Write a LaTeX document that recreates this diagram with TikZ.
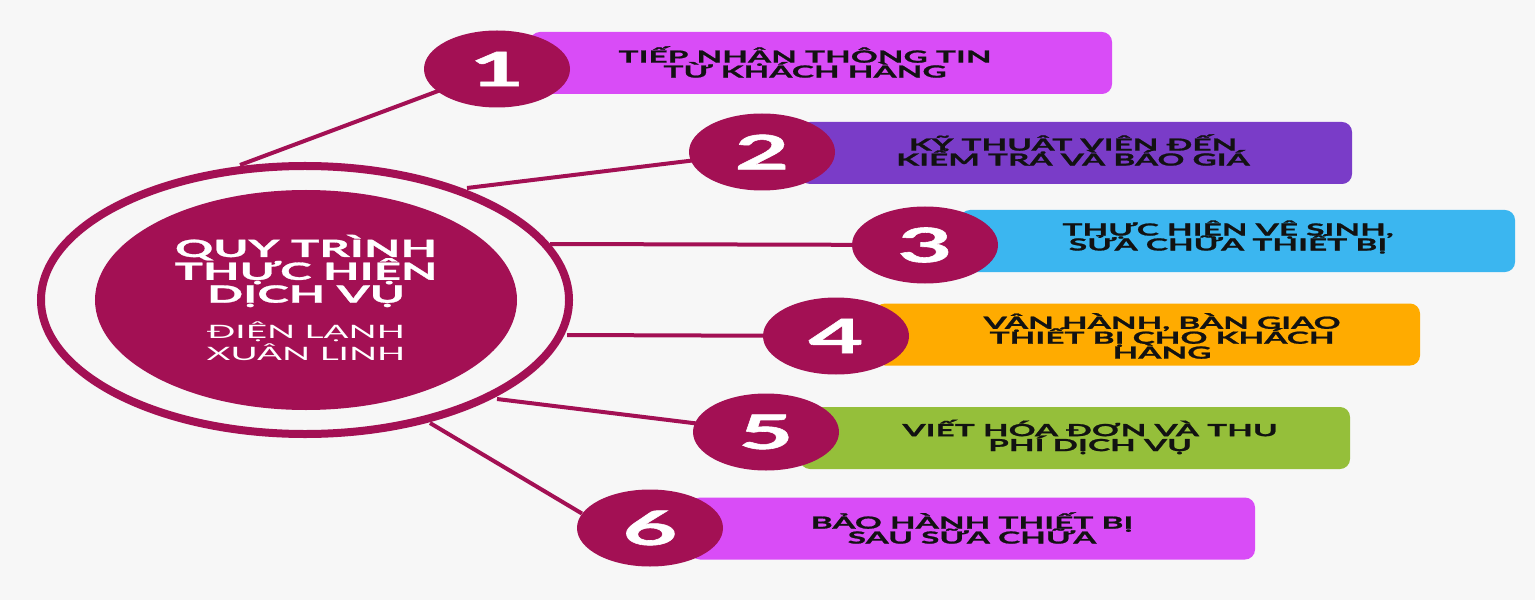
\documentclass[tikz,border=0pt]{standalone}
\usepackage{fontspec}
\setmainfont{Lato}[FakeStretch=2.0,BoldFeatures={FakeBold=1.2}]
\usepackage{xcolor}
\usetikzlibrary{shapes.geometric,backgrounds}

\definecolor{wine}{HTML}{A31054}
\definecolor{pinkbox}{HTML}{D94CF7}
\definecolor{violetbox}{HTML}{7A3CC8}
\definecolor{skybox}{HTML}{3BB6F0}
\definecolor{amberbox}{HTML}{FFAB00}
\definecolor{limebox}{HTML}{95BF3A}
\definecolor{paper}{HTML}{F7F7F7}

\begin{document}
\begin{tikzpicture}[x=0.2mm,y=-0.2mm,
   stepbox/.style={rounded corners=2mm,minimum height=12.4mm,inner sep=0pt},
   num/.style={ellipse,fill=wine,text=white,inner sep=0pt,minimum width=29.2mm,minimum height=15.4mm,
               font={\fontsize{27}{27}\selectfont\bfseries}},
   steptext/.style={align=center,text=black!93,
               font={\fontsize{9.5}{8.5}\selectfont\bfseries\lineskiplimit=-10pt}},
   link/.style={draw=wine,line width=0.8mm}]
  \begin{scope}[on background layer]
    \fill[paper] (0,0) rectangle (1535,600);
  \end{scope}
  % centre
  \node[ellipse,draw=wine,line width=1.6mm,fill=paper,minimum width=105.6mm,minimum height=53.6mm] (ring) at (305,300) {};
  \node[ellipse,fill=wine,inner sep=0pt,minimum width=84.4mm,minimum height=44mm] (hub) at (306,300) {};
  \node[text=white,align=center,font={\fontsize{13.5}{13}\selectfont\bfseries\lineskiplimit=-10pt}] (title) at (306,271)
        {QUY TRÌNH\\THỰC HIỆN\\DỊCH VỤ};
  \node[text=white,align=center,font={\fontsize{10.5}{12.5}\selectfont\lineskiplimit=-10pt}] (sub) at (306,341)
        {ĐIỆN LẠNH\\XUÂN LINH};
  \coordinate (r1) at (240,165);
  \coordinate (r2) at (467,188);
  \coordinate (r3) at (550,244);
  \coordinate (r4) at (567,335);
  \coordinate (r5) at (497,399);
  \coordinate (r6) at (430,423);
  % steps
  \node[stepbox,fill=pinkbox,minimum width=116.4mm] (b1) at (821,63) {};
  \node[stepbox,fill=violetbox,minimum width=110.4mm] (b2) at (1076,153) {};
  \node[stepbox,fill=skybox,minimum width=111mm] (b3) at (1237.5,241) {};
  \node[stepbox,fill=amberbox,minimum width=109mm] (b4) at (1147.5,334.5) {};
  \node[stepbox,fill=limebox,minimum width=110mm] (b5) at (1075,438) {};
  \node[stepbox,fill=pinkbox,minimum width=113mm] (b6) at (972.5,528.5) {};
  \node[steptext] (t1) at (805,62) {TIẾP NHẬN THÔNG TIN\\TỪ KHÁCH HÀNG};
  \node[steptext] (t2) at (1073,150) {KỸ THUẬT VIÊN ĐẾN\\KIỂM TRA VÀ BÁO GIÁ};
  \node[steptext] (t3) at (1228,237) {THỰC HIỆN VỆ SINH,\\SỬA CHỮA THIẾT BỊ};
  \node[steptext] (t4) at (1162,336) {VẬN HÀNH, BÀN GIAO\\THIẾT BỊ CHO KHÁCH\\HÀNG};
  \node[steptext] (t5) at (1090,437) {VIẾT HÓA ĐƠN VÀ THU\\PHÍ DỊCH VỤ};
  \node[steptext] (t6) at (972,528) {BẢO HÀNH THIẾT BỊ\\SAU SỮA CHỮA};
  \node[num] (c1) at (497,69) {1};
  \node[num] (c2) at (762,152) {2};
  \node[num] (c3) at (925,245) {3};
  \node[num] (c4) at (836,336) {4};
  \node[num] (c5) at (766,432) {5};
  \node[num] (c6) at (650,528) {6};
  \begin{scope}[on background layer]
    \draw[link] (r1) -- (c1.center);
    \draw[link] (r2) -- (c2.center);
    \draw[link] (r3) -- (c3.center);
    \draw[link] (r4) -- (c4.center);
    \draw[link] (r5) -- (c5.center);
    \draw[link] (r6) -- (c6.168);
  \end{scope}
\end{tikzpicture}
\end{document}
